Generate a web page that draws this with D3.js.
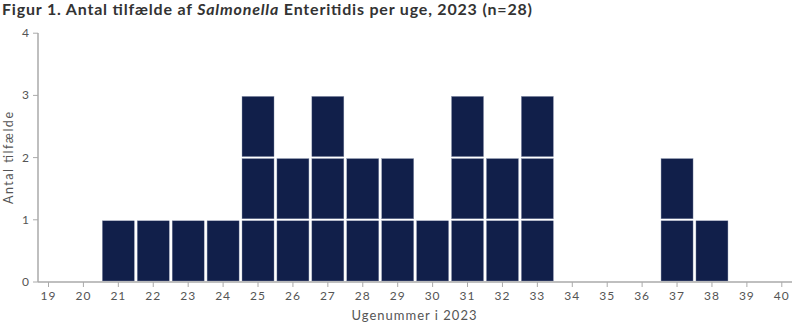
<!DOCTYPE html>
<html><head><meta charset="utf-8">
<script src="https://cdn.jsdelivr.net/npm/d3@7"></script>
<style>body{margin:0;background:#fff}svg{display:block}</style>
</head><body><svg id="c" width="800" height="325"></svg>
<script>
const weeks = d3.range(19, 41);
const counts = [0,0,1,1,1,1,3,2,3,2,2,1,3,2,3,0,0,0,2,1,0,0];
const yTicks = [0,1,2,3,4];

const svg = d3.select("#c");
const font = "Lato, 'DejaVu Sans', sans-serif";
const x = d3.scaleLinear().domain([19,40]).range([48.5,781.8]);
const y = d3.scaleLinear().domain([0,4]).range([282,33.2]);
const barW = 32;

// title
const t = svg.append("text").attr("x",2).attr("y",15)
  .attr("font-family",font).attr("font-size",16).attr("font-weight","bold").attr("fill","#333")
  .attr("textLength",530).attr("lengthAdjust","spacing");
t.append("tspan").text("Figur 1. Antal tilfælde af ");
t.append("tspan").attr("font-style","italic").text("Salmonella");
t.append("tspan").text(" Enteritidis per uge, 2023 (n=28)");

// cells
const cells = [];
weeks.forEach((w,i)=>{ for(let k=0;k<counts[i];k++) cells.push({w,k}); });
svg.append("g").selectAll("rect").data(cells).join("rect")
  .attr("x",d=>x(d.w)-barW/2).attr("width",barW)
  .attr("y",d=>y(d.k+1)+1).attr("height",d=>y(d.k)-y(d.k+1)-2)
  .attr("fill","#111f4a").attr("stroke","#8a93ad").attr("stroke-width",0.4);

// axes
const gx = svg.append("g").attr("transform","translate(0,282)");
gx.append("line").attr("x1",38).attr("x2",792).attr("stroke","#aaa").attr("stroke-width",1.5);
gx.selectAll("line.t").data(weeks).join("line").attr("class","t")
  .attr("x1",d=>x(d)).attr("x2",d=>x(d)).attr("y1",0).attr("y2",5).attr("stroke","#aaa");
gx.selectAll("text").data(weeks).join("text")
  .attr("x",d=>x(d)).attr("y",18).attr("text-anchor","middle")
  .attr("font-family",font).attr("font-size",12).attr("letter-spacing",1).attr("fill","#555").text(d=>d);

const gy = svg.append("g");
gy.append("line").attr("x1",38).attr("x2",38).attr("y1",33).attr("y2",282).attr("stroke","#aaa").attr("stroke-width",1.5);
gy.selectAll("line.t").data(yTicks).join("line").attr("class","t")
  .attr("x1",33).attr("x2",38).attr("y1",d=>y(d)).attr("y2",d=>y(d)).attr("stroke","#aaa");
gy.selectAll("text").data(yTicks).join("text")
  .attr("x",29).attr("y",d=>y(d)+4).attr("text-anchor","end")
  .attr("font-family",font).attr("font-size",12).attr("fill","#555").text(d=>d);

svg.append("text").attr("transform","translate(13,158) rotate(-90)").attr("text-anchor","middle")
  .attr("font-family",font).attr("font-size",12.5).attr("fill","#555")
  .attr("textLength",92).attr("lengthAdjust","spacing").text("Antal tilfælde");
svg.append("text").attr("x",414).attr("y",320).attr("text-anchor","middle")
  .attr("font-family",font).attr("font-size",13).attr("fill","#555")
  .attr("textLength",125).attr("lengthAdjust","spacing").text("Ugenummer i 2023");
</script></body></html>
